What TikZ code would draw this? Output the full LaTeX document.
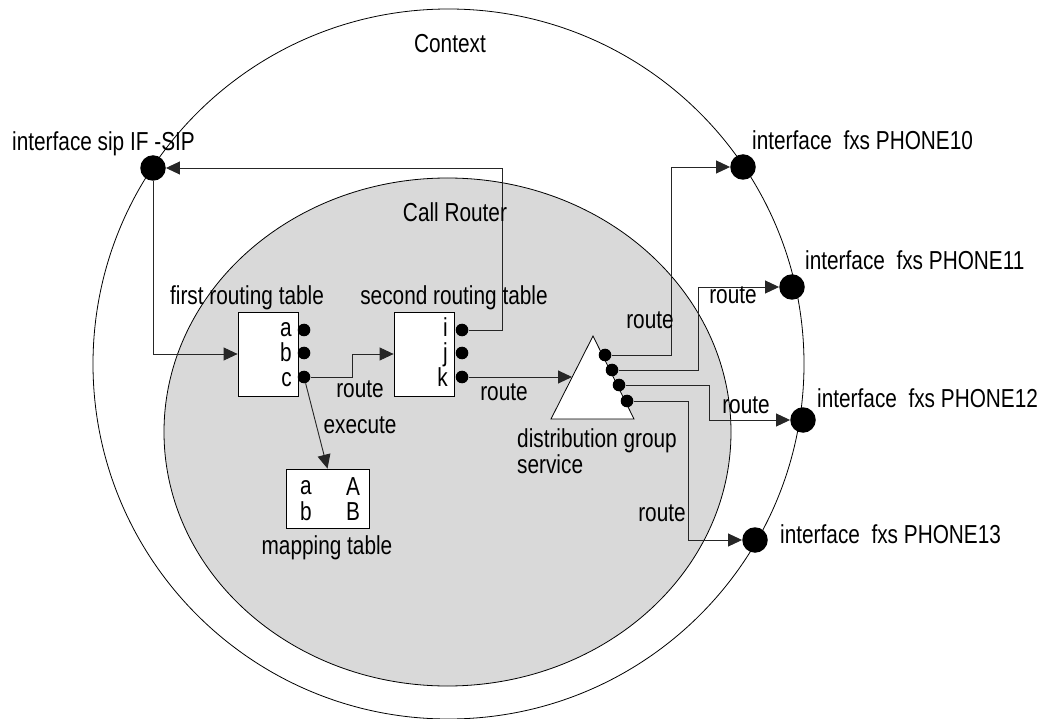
\documentclass[tikz,border=0pt]{standalone}
\usepackage{fontspec}
\setmainfont[FakeStretch=0.80]{Liberation Sans}
\usetikzlibrary{arrows.meta}
\newcommand{\stackl}[2]{\begin{tabular}[b]{@{}l@{}}#1\\#2\end{tabular}}
\newcommand{\stackc}[2]{\begin{tabular}[b]{@{}c@{}}#1\\#2\end{tabular}}
\begin{document}
\begin{tikzpicture}[x=1pt,y=-1pt,
  font=\fontsize{26}{29}\selectfont,
  lbl/.style={inner sep=0pt, anchor=base},
  lbll/.style={inner sep=0pt, anchor=base west},
  lblr/.style={inner sep=0pt, anchor=base east},
  tight/.style={font=\fontsize{26}{23}\selectfont},
  port/.style={circle, fill=black, inner sep=0pt, minimum size=12.6pt},
  iface/.style={circle, fill=black, inner sep=0pt, minimum size=25.5pt},
  tablebox/.style={draw=black, line width=0.8pt, fill=white, inner sep=0pt},
  conn/.style={draw=black!85, line width=0.9pt, -{Triangle[length=14pt,width=13pt]}},
  ring/.style={draw=black, line width=0.8pt}]
\useasboundingbox (0,0) rectangle (1039,719);
% outer context
\path[ring] (448.5,364) ellipse [x radius=355.5, y radius=355];
% call router
\path[ring, fill=black!15] (447.5,432) ellipse [x radius=283.5, y radius=254];

% nodes
\node[iface] (sip) at (153,168) {};
\node[iface] (p10) at (743,167) {};
\node[iface] (p11) at (792,287) {};
\node[iface] (p12) at (803,420) {};
\node[iface] (p13) at (755,540) {};

\node[tablebox, minimum width=60pt, minimum height=84pt] (t1) at (268,354) {};
\node[tablebox, minimum width=60pt, minimum height=84pt] (t2) at (424,354) {};
\node[tablebox, minimum width=83pt, minimum height=59pt] (map) at (327.5,498.5) {};

\draw[line width=0.8pt, fill=white] (593,336) -- (551,419) -- (634,419) -- cycle;
\coordinate (tri) at (572,377);

\node[port] (pa) at (304,330) {};
\node[port] (pb) at (304,353) {};
\node[port] (pc) at (304,377) {};
\node[port] (pi) at (462,330) {};
\node[port] (pj) at (462,353) {};
\node[port] (pk) at (462,377) {};
\node[port] (d1) at (605,355) {};
\node[port] (d2) at (612,370) {};
\node[port] (d3) at (619,385) {};
\node[port] (d4) at (627,401) {};

% connectors
\draw[conn] (sip) |- (t1.west);
\draw[conn] (pi.east) -| (502,168) -- (sip.east);
\draw[conn] (pc.east) -| (352,354) -- (t2.west);
\draw[conn] (pc) -- (map.north);
\draw[conn] (pk.east) -- (tri);
\draw[conn] (d1.east) -| (671,167) -- (p10.west);
\draw[conn] (d2.east) -| (698,287) -- (p11.west);
\draw[conn] (d3.east) -| (709,420) -- (p12.west);
\draw[conn] (d4.east) -| (688,540) -- (p13.west);

% labels
\node[lbl] (lctx) at (450,53) {Context};
\node[lbl] (lcr) at (455,222) {Call Router};
\node[lbll] (lsip) at (12,151) {interface sip IF -SIP};
\node[lbll] (l10) at (752,150) {interface\ \ fxs PHONE10};
\node[lbll] (l11) at (805,270) {interface\ \ fxs PHONE11};
\node[lbll] (l12) at (817,407) {interface\ \ fxs PHONE12};
\node[lbll] (l13) at (780,543) {interface\ \ fxs PHONE13};
\node[lbl] (lt1) at (247,305) {first routing table};
\node[lbl] (lt2) at (454,305) {second routing table};
\node[lblr] (la) at (292,337) {a};
\node[lblr] (lb) at (292,361.5) {b};
\node[lblr] (lc) at (292,386) {c};
\node[lblr] (li) at (448,337) {i};
\node[lblr] (lj) at (448,361.5) {j};
\node[lblr] (lk) at (448,386) {k};
\node[lbl] (lr1) at (360,397) {route};
\node[lbl] (lr2) at (504,400) {route};
\node[lbl] (lex) at (360,433) {execute};
\node[lbll, tight] (ldg) at (517,473) {\stackl{distribution group}{service}};
\node[lbl, tight] (lmab) at (306,520) {\stackc{a}{b}};
\node[lbl, tight] (lmAB) at (353,520) {\stackc{A}{B}};
\node[lbl] (lmap) at (327,554) {mapping table};
\node[lbl] (lr3) at (650,329) {route};
\node[lbl] (lr4) at (733,304) {route};
\node[lbl] (lr5) at (746,413) {route};
\node[lbl] (lr6) at (662,521) {route};
\end{tikzpicture}
\end{document}
